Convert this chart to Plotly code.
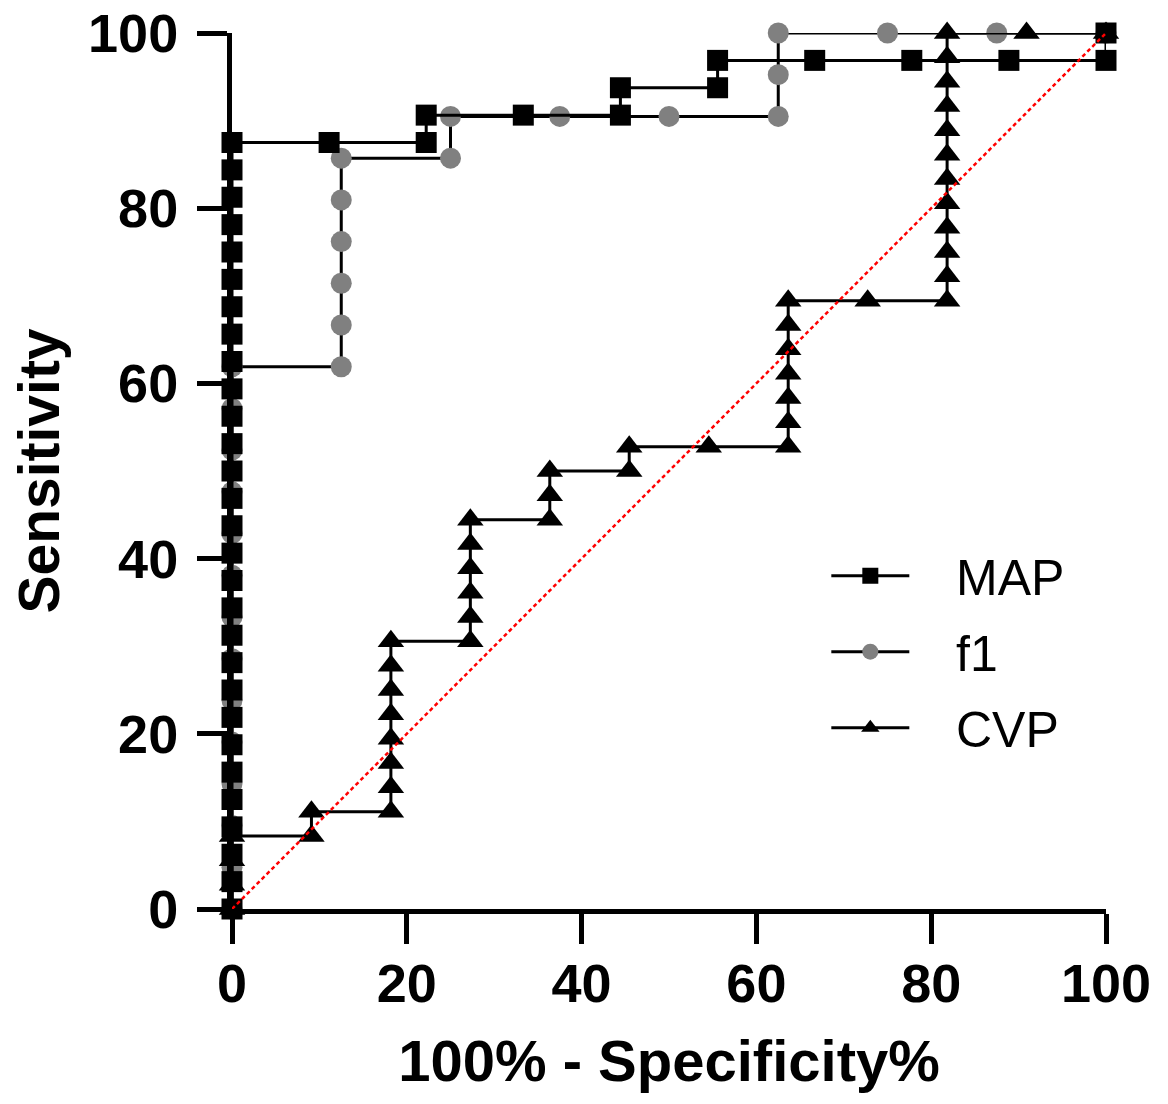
import plotly.graph_objects as go

# ROC curves: 100% - specificity (x) vs sensitivity (y), in percent
map_fpr = [0, 0, 0, 0, 0, 0, 0, 0, 0, 0, 0, 0, 0, 0, 0, 0, 0, 0, 0, 0, 0, 0, 0, 0, 0, 0, 0, 0, 0,
           11.11, 22.22, 22.22, 33.33, 44.44, 44.44, 55.56, 55.56, 66.67, 77.78, 88.89, 100, 100]
map_sens = [0, 3.125, 6.25, 9.375, 12.5, 15.625, 18.75, 21.875, 25, 28.125, 31.25, 34.375, 37.5,
            40.625, 43.75, 46.875, 50, 53.125, 56.25, 59.375, 62.5, 65.625, 68.75, 71.875, 75,
            78.125, 81.25, 84.375, 87.5,
            87.5, 87.5, 90.625, 90.625, 90.625, 93.75, 93.75, 96.875, 96.875, 96.875, 96.875,
            96.875, 100]

f1_fpr = [0, 0, 0, 0, 0, 0, 0, 0, 0, 0, 0, 0, 0, 0,
          12.5, 12.5, 12.5, 12.5, 12.5, 12.5, 25, 25, 37.5, 50, 62.5, 62.5, 62.5, 75, 87.5, 100]
f1_sens = [0, 4.76, 9.52, 14.29, 19.05, 23.81, 28.57, 33.33, 38.1, 42.86, 47.62, 52.38, 57.14, 61.9,
           61.9, 66.67, 71.43, 76.19, 80.95, 85.71, 85.71, 90.48, 90.48, 90.48, 90.48, 95.24, 100,
           100, 100, 100]

cvp_fpr = [0, 0, 0, 0, 9.09, 9.09,
           18.18, 18.18, 18.18, 18.18, 18.18, 18.18, 18.18, 18.18,
           27.27, 27.27, 27.27, 27.27, 27.27, 27.27,
           36.36, 36.36, 36.36, 45.45, 45.45, 54.55,
           63.64, 63.64, 63.64, 63.64, 63.64, 63.64, 63.64, 72.73,
           81.82, 81.82, 81.82, 81.82, 81.82, 81.82, 81.82, 81.82, 81.82, 81.82, 81.82, 81.82,
           90.91, 100]
cvp_sens = [0, 2.78, 5.56, 8.33, 8.33, 11.11,
            11.11, 13.89, 16.67, 19.44, 22.22, 25, 27.78, 30.56,
            30.56, 33.33, 36.11, 38.89, 41.67, 44.44,
            44.44, 47.22, 50, 50, 52.78, 52.78,
            52.78, 55.56, 58.33, 61.11, 63.89, 66.67, 69.44, 69.44,
            69.44, 72.22, 75, 77.78, 80.56, 83.33, 86.11, 88.89, 91.67, 94.44, 97.22, 100,
            100, 100]

chance_x = [0, 100]
chance_y = [0, 100]

x_ticks = [0, 20, 40, 60, 80, 100]
y_ticks = [0, 20, 40, 60, 80, 100]

FONT = "Arial, Liberation Sans, sans-serif"
GAP = "\u00a0\u00a0\u00a0"  # spacing between legend symbol and label

fig = go.Figure()

fig.add_trace(go.Scatter(
    x=f1_fpr, y=f1_sens, name=GAP + "f1", mode="lines+markers", legendrank=2, legendgroup="f1",
    line=dict(color="black", width=3),
    marker=dict(symbol="circle", size=21, color="#808080"),
    cliponaxis=False,
))
fig.add_trace(go.Scatter(
    x=cvp_fpr, y=cvp_sens, name=GAP + "CVP", mode="lines+markers", legendrank=3, legendgroup="cvp",
    line=dict(color="black", width=3),
    marker=dict(symbol="triangle-up", size=23, color="black"),
    cliponaxis=False,
))
fig.add_trace(go.Scatter(
    x=map_fpr, y=map_sens, name=GAP + "MAP", mode="lines+markers", legendrank=1, legendgroup="map",
    line=dict(color="black", width=3),
    marker=dict(symbol="square", size=21, color="black"),
    cliponaxis=False,
))
fig.add_trace(go.Scatter(
    x=chance_x, y=chance_y, mode="lines", showlegend=False, hoverinfo="skip",
    line=dict(color="red", width=2.5, dash="4px,3px"),
    cliponaxis=False,
))

axis_common = dict(
    showline=True, linecolor="black", linewidth=5,
    ticks="outside", ticklen=30, tickwidth=5, tickcolor="black",
    showgrid=False, zeroline=False, automargin=False,
    tickfont=dict(family=FONT, size=54, color="black", weight="bold"),
)

fig.update_xaxes(
    range=[0, 100], tickvals=x_ticks, ticktext=[str(v) for v in x_ticks],
    ticklabelstandoff=-7,
    title=dict(text="100% - Specificity%", standoff=30,
               font=dict(family=FONT, size=58, color="black", weight="bold")),
    **axis_common,
)
fig.update_yaxes(
    range=[0, 100], tickvals=y_ticks, ticktext=[str(v) for v in y_ticks],
    ticklabelstandoff=8,
    title=dict(text="Sensitivity", standoff=12,
               font=dict(family=FONT, size=57, color="black", weight="bold")),
    **axis_common,
)

fig.update_layout(
    width=1168, height=1104,
    margin=dict(l=232, r=62, t=33, b=195),
    paper_bgcolor="white", plot_bgcolor="white",
    showlegend=True,
    legend=dict(
        x=0.68, y=0.425, xanchor="left", yanchor="top",
        bgcolor="rgba(0,0,0,0)", borderwidth=0,
        font=dict(family=FONT, size=50, color="black"),
        itemwidth=78, tracegroupgap=8, traceorder="grouped",
    ),
)

fig.write_html("out.html")
